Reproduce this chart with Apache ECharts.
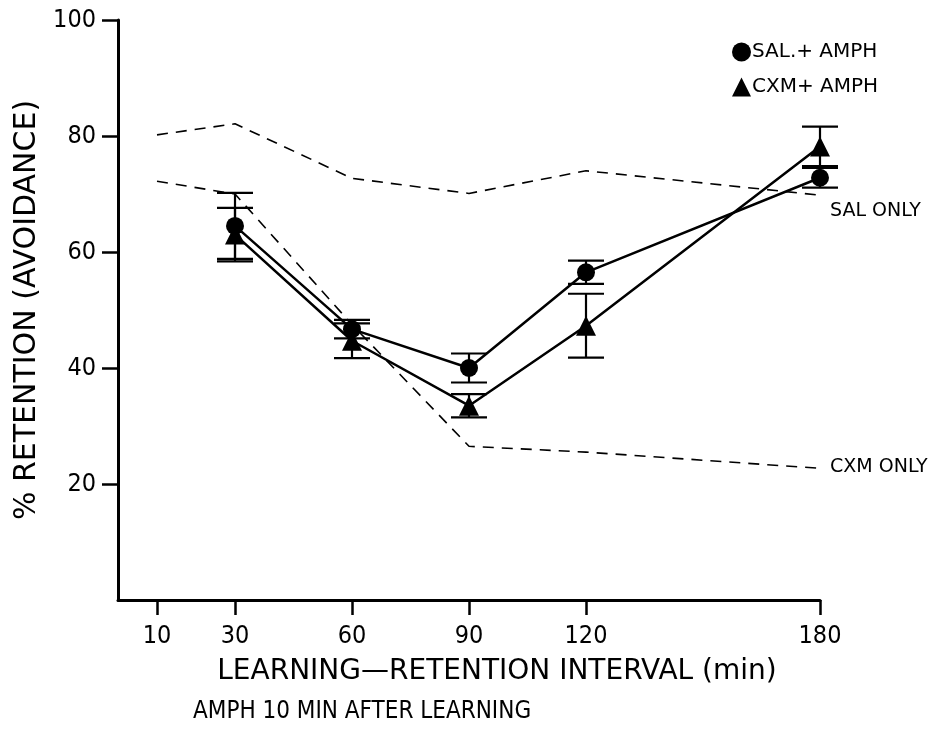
<!DOCTYPE html>
<html>
<head>
<meta charset="utf-8">
<script src="https://cdn.jsdelivr.net/npm/echarts@6/dist/echarts.min.js"></script>
<style>
html, body { margin: 0; padding: 0; background: #fff; }
#chart { width: 937px; height: 730px; }
</style>
</head>
<body>
<div id="chart"></div>
<script>
var FONT = '"Liberation Sans Narrow", "DejaVu Sans Condensed", "DejaVu Sans", sans-serif';
var FONT_WIDE = '"DejaVu Sans", sans-serif';

// 横轴刻度 (min)
var xTicks = [10, 30, 60, 90, 120, 180];
var yTicks = [20, 40, 60, 80, 100];

// 对照虚线
var salOnlyX = [10, 30, 60, 90, 120, 180];
var salOnly = [80.2, 82.1, 72.7, 70.1, 74.0, 69.8];
var cxmOnlyX = [10, 30, 60, 90, 120, 180];
var cxmOnly = [72.2, 70.0, 47.5, 26.5, 25.5, 22.7];

// 实验组 均值 + 误差
var amphX = [30, 60, 90, 120, 180];
var salAmph = [64.5, 46.7, 40.0, 56.5, 72.8];
var salAmphErr = [5.7, 1.6, 2.5, 2.0, 1.7];
var cxmAmph = [63.0, 44.7, 33.5, 47.3, 78.2];
var cxmAmphErr = [4.6, 3.0, 2.0, 5.5, 3.4];

function pairs(xs, ys) {
    return xs.map(function (x, i) { return [x, ys[i]]; });
}
function errData(xs, ys, es) {
    return xs.map(function (x, i) { return [x, ys[i] - es[i], ys[i] + es[i]]; });
}

function renderErr(params, api) {
    var lo = api.coord([api.value(0), api.value(1)]);
    var hi = api.coord([api.value(0), api.value(2)]);
    var w = 18;
    var st = { stroke: '#000', lineWidth: 2.2 };
    return {
        type: 'group',
        children: [
            { type: 'line', shape: { x1: lo[0], y1: lo[1], x2: hi[0], y2: hi[1] }, style: st },
            { type: 'line', shape: { x1: lo[0] - w, y1: lo[1], x2: lo[0] + w, y2: lo[1] }, style: st },
            { type: 'line', shape: { x1: hi[0] - w, y1: hi[1], x2: hi[0] + w, y2: hi[1] }, style: st }
        ]
    };
}

var myChart = echarts.init(document.getElementById('chart'));
myChart.setOption({
    animation: false,
    backgroundColor: '#fff',
    textStyle: { fontFamily: FONT, color: '#000' },
    title: {
        text: 'AMPH 10 MIN AFTER LEARNING',
        left: 188,
        top: 695,
        textStyle: { fontFamily: FONT, fontSize: 24, fontWeight: 'normal', color: '#000' }
    },
    legend: {
        orient: 'vertical',
        left: 727,
        top: 37,
        itemWidth: 19,
        itemHeight: 19,
        itemGap: 15,
        data: [
            { name: 'SAL.+ AMPH', icon: 'circle' },
            { name: 'CXM+ AMPH', icon: 'triangle' }
        ],
        textStyle: { fontFamily: FONT_WIDE, fontSize: 20, color: '#000', padding: [0, 0, 0, -4] }
    },
    grid: { left: 118, right: 117, top: 20, bottom: 130, outerBoundsMode: 'none' },
    xAxis: {
        type: 'value',
        min: 0,
        max: 180,
        name: 'LEARNING\u2014RETENTION INTERVAL (min)',
        nameLocation: 'middle',
        nameGap: 58,
        nameTextStyle: { fontFamily: FONT_WIDE, fontSize: 28, color: '#000', padding: [0, 0, 0, 56] },
        splitLine: { show: false },
        axisLine: { lineStyle: { color: '#000', width: 3 } },
        axisTick: { customValues: xTicks, length: 15, lineStyle: { color: '#000', width: 2.5 } },
        axisLabel: { customValues: xTicks, fontFamily: FONT, fontSize: 25, color: '#000', margin: 24 }
    },
    yAxis: {
        type: 'value',
        min: 0,
        max: 100,
        interval: 20,
        name: '% RETENTION (AVOIDANCE)',
        nameLocation: 'middle',
        nameGap: 76,
        nameRotate: 90,
        nameTextStyle: { fontFamily: FONT_WIDE, fontSize: 30, color: '#000' },
        splitLine: { show: false },
        axisLine: { lineStyle: { color: '#000', width: 3 } },
        axisTick: { customValues: yTicks, length: 16, lineStyle: { color: '#000', width: 2.5 } },
        axisLabel: { customValues: yTicks, fontFamily: FONT, fontSize: 25, color: '#000', margin: 22 }
    },
    series: [
        {
            name: 'SAL ONLY',
            type: 'line',
            data: pairs(salOnlyX, salOnly),
            symbol: 'none',
            lineStyle: { color: '#000', width: 1.6, type: [11, 8] },
            endLabel: {
                show: true,
                formatter: 'SAL ONLY',
                fontFamily: FONT_WIDE,
                fontSize: 19,
                color: '#000',
                offset: [2, 16]
            },
            z: 1
        },
        {
            name: 'CXM ONLY',
            type: 'line',
            data: pairs(cxmOnlyX, cxmOnly),
            symbol: 'none',
            lineStyle: { color: '#000', width: 1.6, type: [11, 8] },
            endLabel: {
                show: true,
                formatter: 'CXM ONLY',
                fontFamily: FONT_WIDE,
                fontSize: 19,
                color: '#000',
                offset: [2, -1]
            },
            z: 1
        },
        {
            name: 'SAL.+ AMPH',
            type: 'line',
            data: pairs(amphX, salAmph),
            symbol: 'circle',
            symbolSize: 18,
            itemStyle: { color: '#000' },
            lineStyle: { color: '#000', width: 2.5 },
            z: 3
        },
        {
            name: 'CXM+ AMPH',
            type: 'line',
            data: pairs(amphX, cxmAmph),
            symbol: 'triangle',
            symbolSize: 20,
            itemStyle: { color: '#000' },
            lineStyle: { color: '#000', width: 2.5 },
            z: 3
        },
        {
            name: 'salErr',
            type: 'custom',
            renderItem: renderErr,
            data: errData(amphX, salAmph, salAmphErr),
            encode: { x: 0, y: [1, 2] },
            z: 2
        },
        {
            name: 'cxmErr',
            type: 'custom',
            renderItem: renderErr,
            data: errData(amphX, cxmAmph, cxmAmphErr),
            encode: { x: 0, y: [1, 2] },
            z: 2
        }
    ]
});
</script>
</body>
</html>
